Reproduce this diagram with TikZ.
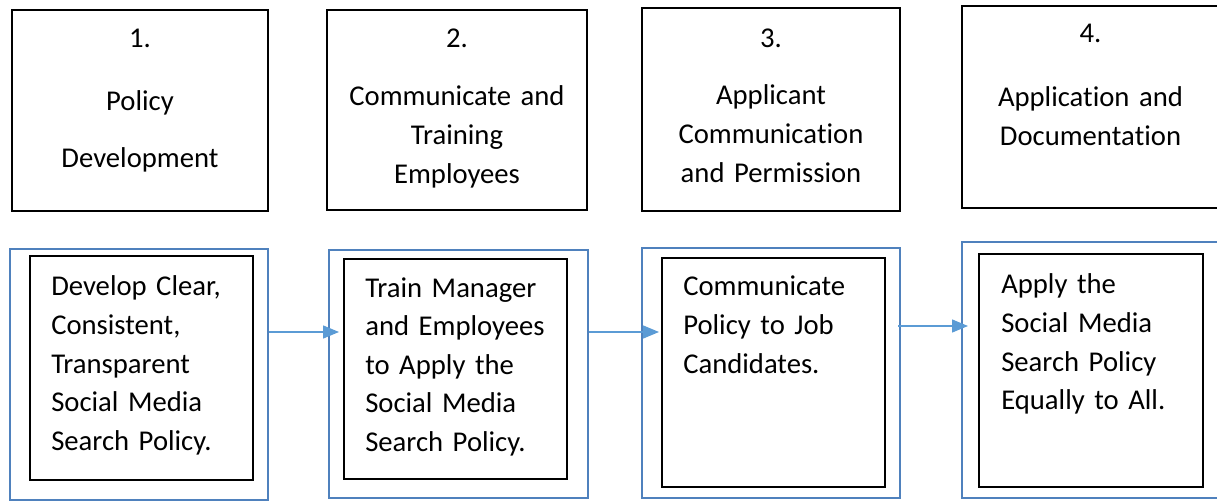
\documentclass[tikz,border=0pt]{standalone}
\usepackage{fontspec}
\setmainfont{Carlito}[Ligatures={NoCommon,NoContextual}]
\usetikzlibrary{arrows.meta}

\definecolor{frameblue}{RGB}{79,129,189}
\definecolor{arrowblue}{RGB}{91,155,213}

\tikzset{
  stagebox/.style={draw=black, line width=1.4pt, inner sep=0pt},
  outerbox/.style={draw=frameblue, line width=2pt, inner sep=0pt},
  innerbox/.style={draw=black, line width=1.5pt, inner sep=0pt},
  stagetext/.style={text width=185pt, align=center, inner sep=0pt,
    font=\fontsize{21.5}{29.25}\selectfont},
  actiontext/.style={text width=160pt, align=left, inner sep=0pt,
    font=\fontsize{21.5}{28.9}\selectfont},
  flow/.style={draw=arrowblue, line width=1.1pt,
    -{Triangle[length=12pt,width=9.75pt]}}
}

\begin{document}
\begin{tikzpicture}[x=0.75pt,y=0.75pt,yscale=-1,xscale=1]
\useasboundingbox (0,0) rectangle (1217,502);

% top row: the four stages
\node[stagebox, minimum width=192pt, minimum height=150.75pt] (st1) at (140,110.5) {};
\node[stagebox, minimum width=195pt, minimum height=150pt] (st2) at (457,110) {};
\node[stagebox, minimum width=193.5pt, minimum height=152.25pt] (st3) at (771,109.5) {};
\node[stagebox, minimum width=195pt, minimum height=151.5pt] (st4) at (1092,107) {};

\node[stagetext, anchor=base] (st1txt) at (140,48) {1.\\[18pt] Policy\\[13.5pt] Development};
\node[stagetext, anchor=base] (st2txt) at (457,48) {2.\\[14.25pt] Communicate and\\ Training\\ Employees};
\node[stagetext, anchor=base] (st3txt) at (771,48) {3.\\[13.5pt] Applicant\\ Communica\kern0pt tion\\ and Permission};
\node[stagetext, anchor=base] (st4txt) at (1090.5,43) {4.\\[18.75pt] Application and\\ Documenta\kern0pt tion};

% bottom row: blue frames with the actions
\node[outerbox, minimum width=193.5pt, minimum height=188.25pt] (out1) at (139,374.5) {};
\node[outerbox, minimum width=194.25pt, minimum height=186pt] (out2) at (458.5,374) {};
\node[outerbox, minimum width=193.5pt, minimum height=187.5pt] (out3) at (771,373) {};
\node[outerbox, minimum width=197.25pt, minimum height=192pt] (out4) at (1093.5,370) {};

\node[innerbox, minimum width=167.25pt, minimum height=168pt] (in1) at (141.5,368) {};
\node[innerbox, minimum width=167.25pt, minimum height=165pt] (in2) at (455.5,369) {};
\node[innerbox, minimum width=167.25pt, minimum height=171.75pt] (in3) at (773.5,372.5) {};
\node[innerbox, minimum width=168pt, minimum height=174.75pt] (in4) at (1091,370.5) {};

\node[actiontext, anchor=base west] (act1) at (51,296) {Develop Clear,\\ Consistent,\\ Transparent\\ Social Media\\ Search Policy.};
\node[actiontext, anchor=base west] (act2) at (365,297) {Train Manager\\ and Employees\\ to Apply the\\ Social Media\\ Search Policy.};
\node[actiontext, anchor=base west] (act3) at (683,296) {Communicate\\ Policy to Job\\ Candidates.};
\node[actiontext, anchor=base west] (act4) at (1001,294) {Apply the\\ Social Media\\ Search Policy\\ Equally to All.};

% arrows
\coordinate (row1) at (0,332);
\coordinate (row3) at (0,326);
\draw[flow, shorten >=3pt] (out1.east |- row1) -- (in2.west |- row1);
\draw[flow, shorten >=1.5pt] (out2.east |- row1) -- (in3.west |- row1);
\draw[flow, shorten >=7.5pt] ([xshift=-2.25pt]out3.east |- row3) -- (in4.west |- row3);

\end{tikzpicture}
\end{document}
